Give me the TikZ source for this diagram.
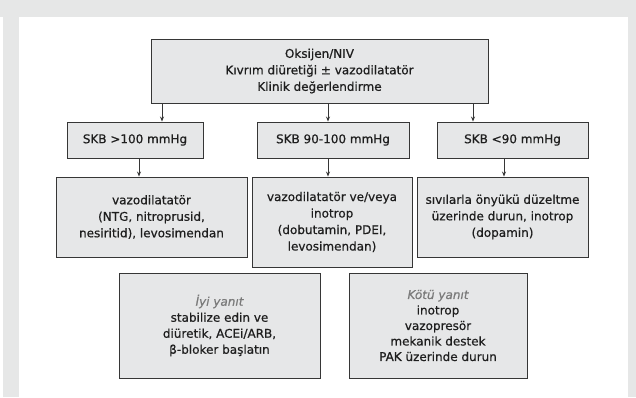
\documentclass[tikz,border=0pt]{standalone}
\usepackage{fontspec}
\setmainfont[FakeBold=0.6]{DejaVu Sans}
\usetikzlibrary{arrows.meta}
\definecolor{pagegrey}{HTML}{E6E7E7}
\definecolor{boxfill}{HTML}{E6E7E8}
\definecolor{boxline}{HTML}{363636}
\definecolor{inktext}{HTML}{1E1E1E}
\definecolor{notegrey}{HTML}{7A7A7A}
\tikzset{
  box/.style={draw=boxline, fill=boxfill, line width=0.9pt, inner sep=2pt,
    align=center, text=inktext, font=\fontsize{12}{16.5}\selectfont},
  arr/.style={draw=boxline, line width=0.8pt, -{Stealth[length=5pt,width=4pt]}},
  note/.style={text=notegrey, font=\itshape}
}
\begin{document}
\begin{tikzpicture}[x=1pt, y=-1pt]
  % page background and white panel
  \fill[pagegrey] (0,0) rectangle (636,397);
  \fill[white] (0,17) rectangle (3,397);
  \fill[white] (19,17) rectangle (628,397);
  \useasboundingbox (0,0) rectangle (636,397);

  % first step
  \node[box, minimum width=337pt, minimum height=64pt] (top) at (319.5,71)
    {Oksijen/NIV\\Kıvrım diüretiği ± vazodilatatör\\Klinik değerlendirme};

  % blood pressure groups
  \node[box, minimum width=136pt, minimum height=36pt] (skbA) at (135,140) {SKB >100 mmHg};
  \node[box, minimum width=152pt, minimum height=36pt] (skbB) at (333,140) {SKB 90-100 mmHg};
  \node[box, minimum width=151pt, minimum height=36pt] (skbC) at (512.5,140) {SKB <90 mmHg};

  % treatments
  \node[box, minimum width=191pt, minimum height=80pt] (trA) at (151.5,217)
    {vazodilatatör\\(NTG, nitroprusid,\\nesiritid), levosimendan};
  \node[box, minimum width=160pt, minimum height=90pt] (trB) at (332,222)
    {vazodilatatör ve/veya\\inotrop\\(dobutamin, PDEI,\\levosimendan)};
  \node[box, minimum width=171pt, minimum height=80pt] (trC) at (502.5,217)
    {sıvılarla önyükü düzeltme\\üzerinde durun, inotrop\\(dopamin)};

  % responses
  \node[box, minimum width=201pt, minimum height=105pt, font=\fontsize{12}{16}\selectfont] (good) at (219.5,325.5)
    {{\color{notegrey}\itshape İyi yanıt}\\stabilize edin ve\\diüretik, ACEi/ARB,\\β-bloker başlatın};
  \node[box, minimum width=178pt, minimum height=105pt, font=\fontsize{12}{15.5}\selectfont] (poor) at (438,325.5)
    {{\color{notegrey}\itshape Kötü yanıt}\\inotrop\\vazopresör\\mekanik destek\\PAK üzerinde durun};

  % connector columns
  \coordinate (cA) at (162,0);
  \coordinate (cB) at (328,0);
  \coordinate (cC) at (473,0);
  \coordinate (dA) at (139,0);
  \coordinate (dB) at (328,0);
  \coordinate (dC) at (504,0);

  \draw[arr] (top.south -| cA) -- (skbA.north -| cA);
  \draw[arr] (top.south -| cB) -- (skbB.north -| cB);
  \draw[arr] (top.south -| cC) -- (skbC.north -| cC);
  \draw[arr] (skbA.south -| dA) -- (trA.north -| dA);
  \draw[arr] (skbB.south -| dB) -- (trB.north -| dB);
  \draw[arr] (skbC.south -| dC) -- (trC.north -| dC);
\end{tikzpicture}
\end{document}
